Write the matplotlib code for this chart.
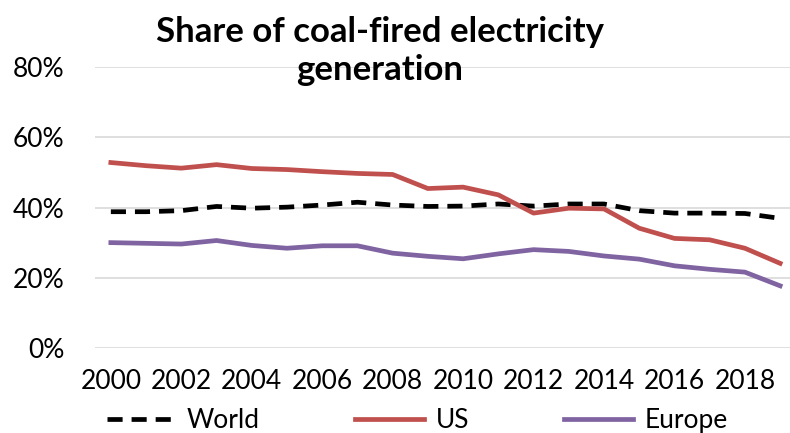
import matplotlib.pyplot as plt

years = list(range(2000, 2020))
world = [38.8, 38.8, 39.1, 40.3, 39.8, 40.1, 40.7, 41.5, 40.7, 40.3,
         40.4, 41.0, 40.4, 41.0, 41.0, 39.1, 38.4, 38.4, 38.3, 36.9]
us = [52.8, 51.9, 51.2, 52.2, 51.1, 50.8, 50.2, 49.7, 49.4, 45.4,
      45.8, 43.6, 38.4, 39.8, 39.6, 34.1, 31.2, 30.8, 28.4, 24.1]
europe = [30.0, 29.8, 29.6, 30.6, 29.2, 28.4, 29.1, 29.1, 27.0, 26.1,
          25.4, 26.8, 28.0, 27.5, 26.2, 25.3, 23.4, 22.4, 21.6, 17.7]
xticks = list(range(2000, 2019, 2))
yticks = [0, 20, 40, 60, 80]

plt.rcParams['font.family'] = ['Lato', 'DejaVu Sans']

fig = plt.figure(figsize=(7.9, 4.33), dpi=100)
ax = fig.add_axes([95 / 790, 1 - 348 / 433, 695 / 790, 281 / 433])

ax.plot(years, world, color='black', lw=3.4, linestyle=(0, (3.2, 1.9)), label='World')
ax.plot(years, us, color='#C0504D', lw=3.4, label='US')
ax.plot(years, europe, color='#8064A2', lw=3.4, label='Europe')

ax.set_xlim(1999.55, 2019.28)
ax.set_ylim(0, 80)
ax.set_yticks(yticks)
ax.set_yticklabels([f'{v}%' for v in yticks])
ax.set_xticks(xticks)
ax.grid(axis='y', color='#d9d9d9', lw=1.2)
ax.set_axisbelow(True)
for s in ax.spines.values():
    s.set_visible(False)
ax.tick_params(length=0, labelsize=19, colors='black')
ax.tick_params(axis='y', pad=22)
ax.tick_params(axis='x', pad=15)

fig.text(0.481, 0.882, 'Share of coal-fired electricity\ngeneration', ha='center', va='center',
         fontsize=25, fontweight='bold', linespacing=1.25)

fig.legend(loc='center', bbox_to_anchor=(0.528, 0.028), ncol=3, frameon=False,
           fontsize=19, handlelength=2.6, handletextpad=0.45, columnspacing=3.6)

fig.savefig('out.png', dpi=100)
